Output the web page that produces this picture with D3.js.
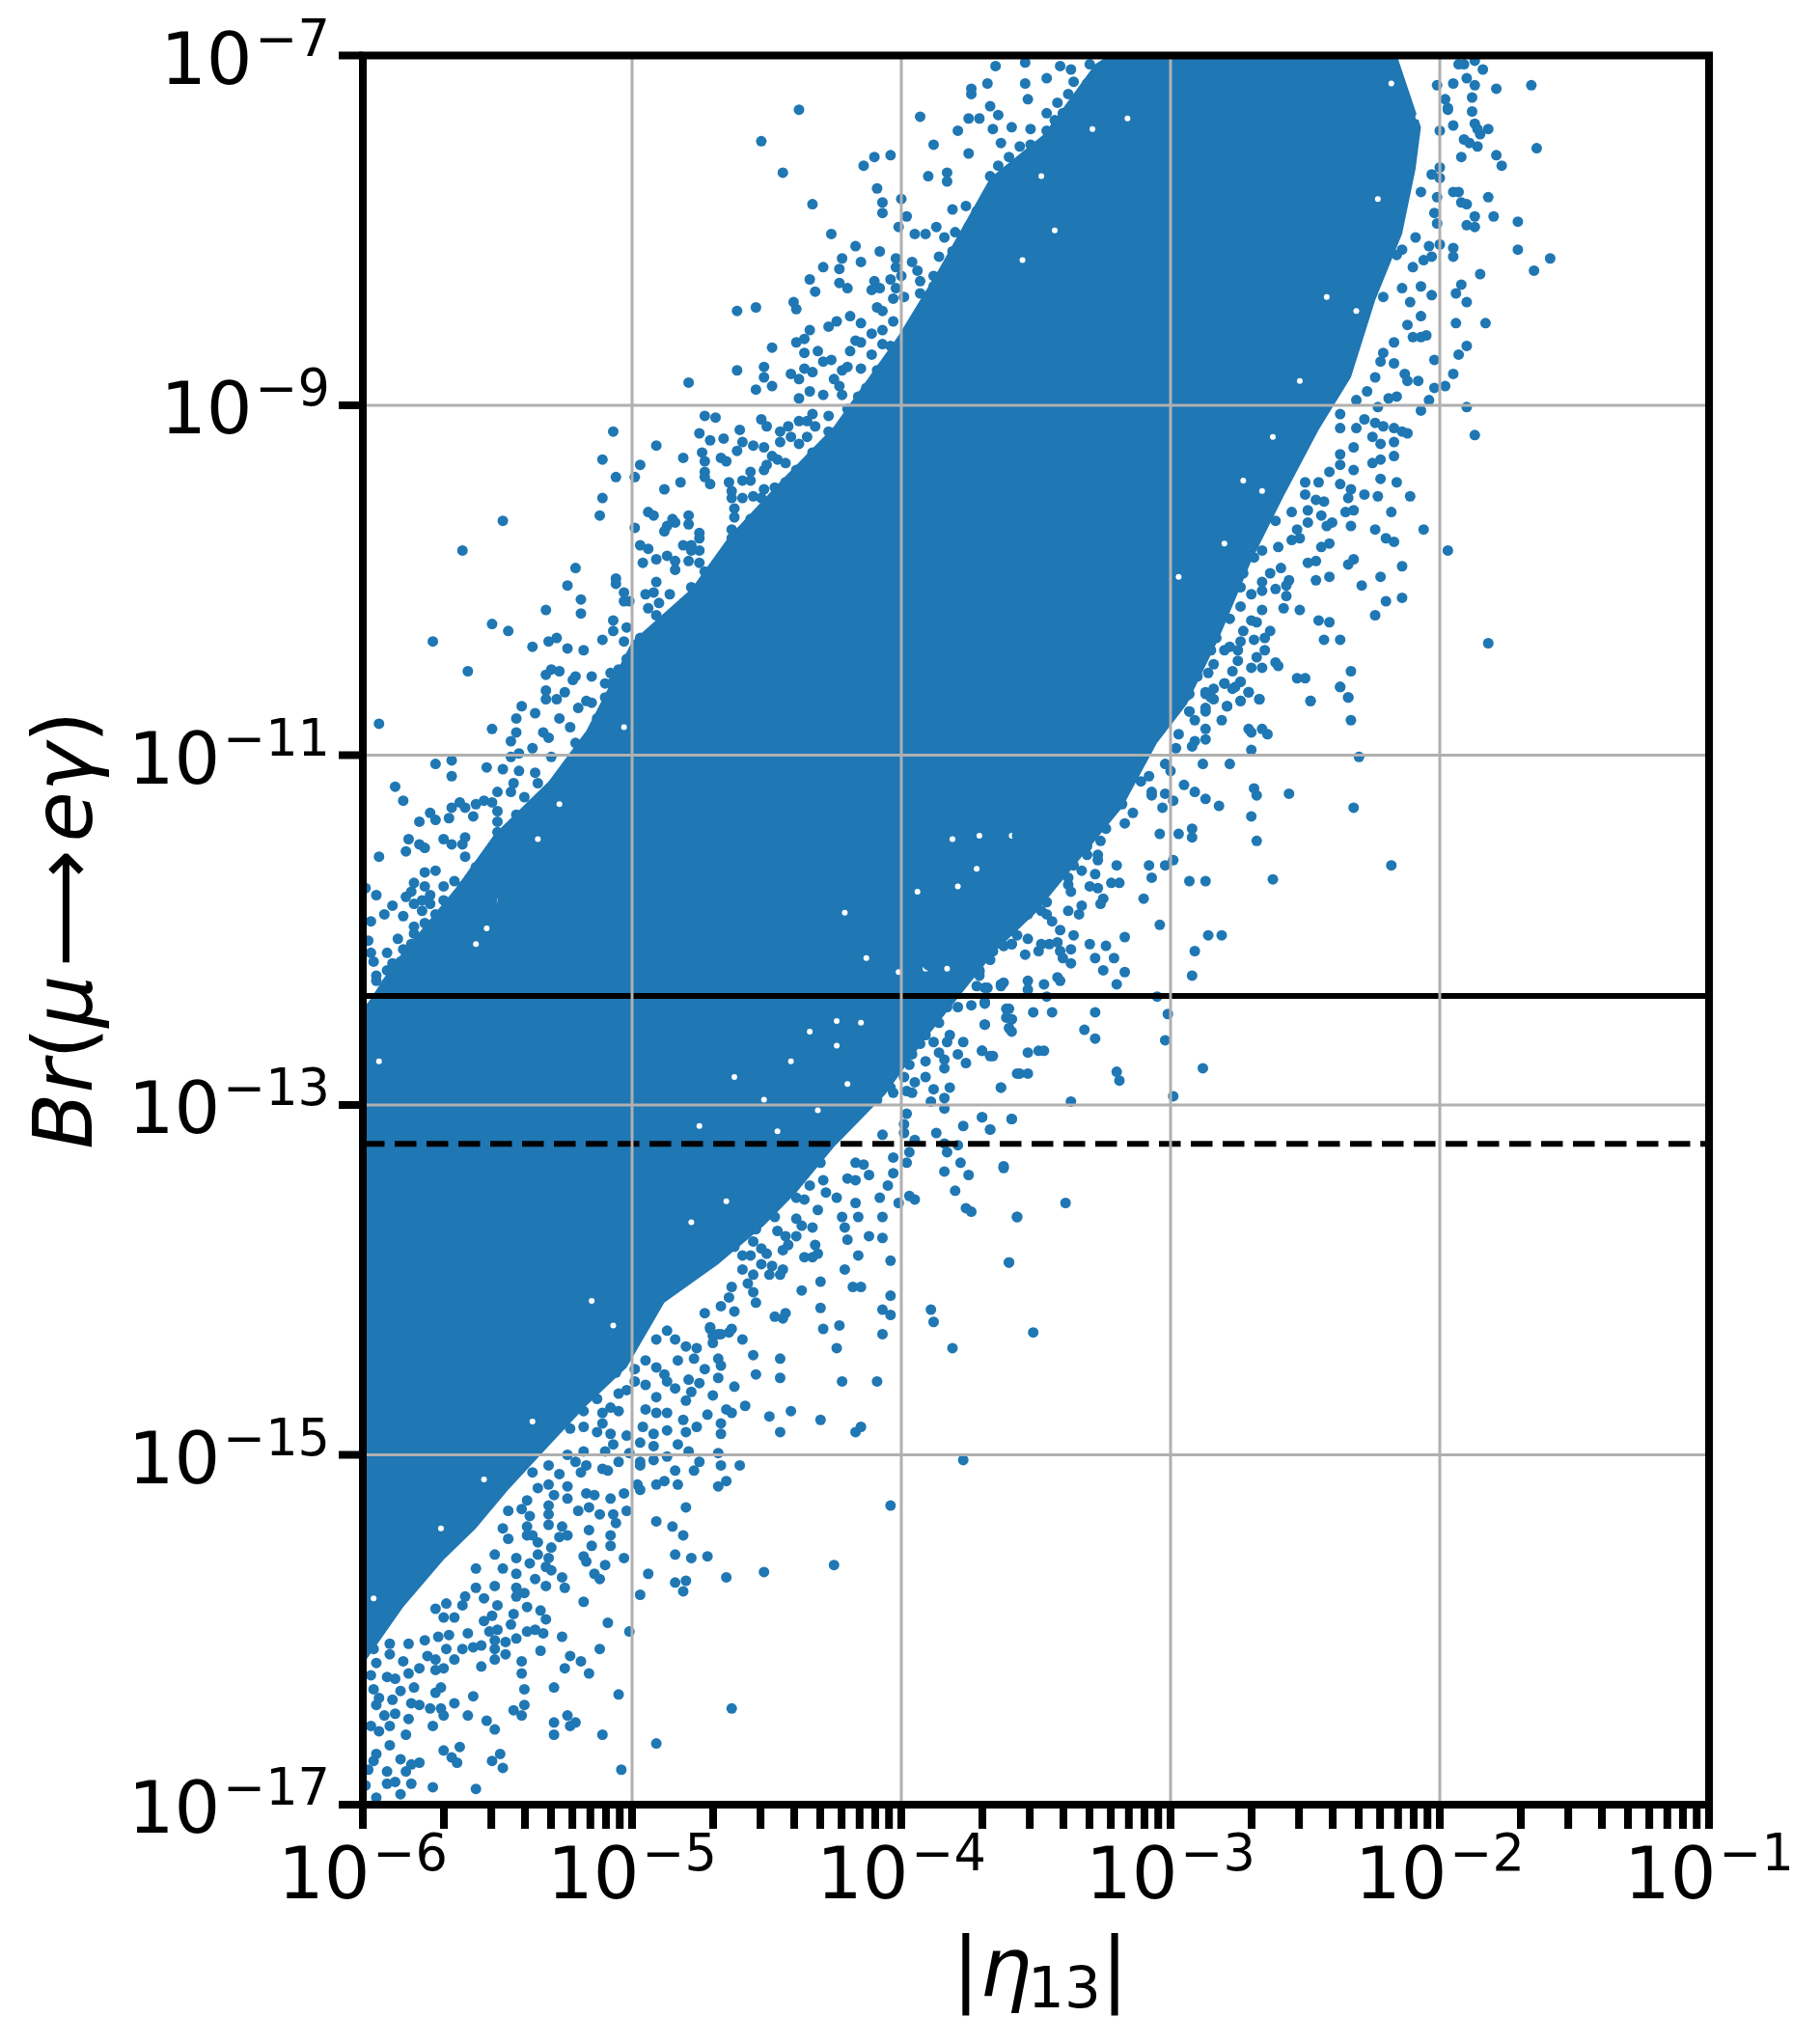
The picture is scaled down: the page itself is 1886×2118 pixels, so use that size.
<!DOCTYPE html>
<html>
<head>
<meta charset="utf-8">
<script src="https://cdn.jsdelivr.net/npm/d3@7/dist/d3.min.js"></script>
<style>
    body { margin: 0; background: #fff; }
    text { font-family: "DejaVu Sans"; fill: #000; }
</style>
</head>
<body>
<div id="graph"></div>
<script>
"use strict";

// all values are log10 of the plotted quantity
const xDecades = [-6, -5, -4, -3, -2, -1];
const yDecades = [-7, -9, -11, -13, -15, -17];
const brLimit = 4.2e-13;
const brFuture = 6e-14;

// the points are too dense to separate in the core, so it is kept as its outline
const coreOutline = [
    [-6,-16.2],[-6,-12.46],[-5.89,-12.2],[-5.65,-11.75],[-5.51,-11.45],[-5.31,-11.15],[-5.17,-10.86],
    [-5,-10.35],[-4.78,-10.05],[-4.64,-9.75],[-4.44,-9.42],[-4.25,-9.12],[-4.01,-8.6],[-3.86,-8.22],
    [-3.67,-7.7],[-3.47,-7.45],[-3.28,-7.05],[-3.18,-6.95],[-2.17,-6.95],[-2.07,-7.41],[-2.09,-7.65],
    [-2.14,-8.02],[-2.24,-8.4],[-2.33,-8.84],[-2.45,-9.14],[-2.58,-9.52],[-2.7,-9.89],[-2.82,-10.33],
    [-2.94,-10.71],[-3.05,-10.93],[-3.18,-11.3],[-3.34,-11.6],[-3.5,-11.9],[-3.65,-12.12],[-3.77,-12.35],
    [-3.92,-12.64],[-4.06,-12.94],[-4.25,-13.24],[-4.39,-13.5],[-4.51,-13.69],[-4.68,-13.91],[-4.88,-14.13],
    [-5.02,-14.5],[-5.17,-14.72],[-5.31,-14.95],[-5.46,-15.2],[-5.58,-15.42],[-5.7,-15.6],[-5.85,-15.87]
];

// small uncovered specks inside the core
const coreGaps = [
    [-3.71,-11.46],[-3.81,-11.48],[-3.59,-11.46],[-3.72,-11.65],[-3.79,-11.75],[-3.94,-11.78],[-4.21,-11.9],[-4.13,-12.16],
    [-4.01,-12.24],[-3.91,-12.22],[-3.83,-12.22],[-4.34,-12.58],[-4.24,-12.52],[-4.15,-12.53],[-4.24,-12.66],[-4.41,-12.75],
    [-4.62,-12.84],[-4.51,-12.97],[-4.2,-12.88],[-4.75,-13.12],[-5.15,-14.12],[-5.07,-14.26],[-4.78,-13.67],[-4.65,-13.55],
    [-4.46,-13.15],[-4.31,-13.03],[-5.03,-10.84],[-5.35,-11.48],[-5.27,-11.28],[-5.51,-11.83],[-5.58,-12.08],[-5.94,-12.75],
    [-5.54,-11.99],[-2.42,-8.38],[-2.31,-8.46],[-2.18,-7.16],[-2.08,-7.35],[-2.23,-7.82],[-2.52,-8.86],[-2.62,-9.18],
    [-2.73,-9.43],[-2.66,-9.49],[-2.97,-9.98],[-2.8,-9.79],[-3.16,-7.36],[-3.29,-7.42],[-3.48,-7.69],[-3.55,-8.17],
    [-3.43,-8],[-5.37,-14.81],[-5.55,-15.14],[-5.71,-15.42],[-5.63,-15.57],[-5.96,-15.82],[-5.87,-15.95]
];

const upperTop = [
    [-4.38,-7.31],[-4.52,-7.49],[-4.44,-7.67],[-4.33,-7.85],[-4.26,-8.02],[-4.14,-7.63],[-4.1,-7.58],[-4.04,-7.57],
    [-4.09,-7.76],[-4.07,-7.84],[-4.07,-7.9],[-4,-7.82],[-3.98,-7.92],[-4.01,-7.98],[-3.93,-7.35],[-3.88,-7.51],
    [-3.9,-7.69],[-3.83,-7.67],[-3.83,-7.72],[-3.75,-7.56],[-3.81,-7.88],[-3.76,-7.86],[-3.74,-7.19],[-3.74,-7.22],
    [-3.68,-7.16],[-3.65,-7.06],[-3.67,-7.29],[-3.75,-7.36],[-3.71,-7.36],[-3.79,-7.43],[-3.64,-7.34],[-3.66,-7.42],
    [-3.59,-7.41],[-3.63,-7.5],[-3.6,-7.58],[-3.64,-7.63],[-3.67,-7.69],[-3.58,-7.64],[-3.66,-7.79],[-3.64,-7.86],
    [-3.72,-7.89],[-3.69,-7.95],[-3.64,-7.96],[-3.54,-7.04],[-3.54,-7.16],[-3.53,-7.25],[-3.46,-7.13],[-3.41,-7.06],
    [-3.37,-7.08],[-3.36,-7.15],[-3.31,-7.16],[-3.29,-7.22],[-3.25,-7.08],[-3.3,-7.05],[-3.18,-7.05],[-3.13,-7.06],
    [-3.42,-7.27],[-3.46,-7.33],[-3.4,-7.33],[-3.34,-7.29],[-3.38,-7.22],[-3.52,-7.42],[-3.43,-7.37],[-3.38,-7.4],
    [-3.46,-7.43],[-3.52,-7.51],[-3.41,-7.51],[-3.56,-7.52],[-3.48,-7.59],[-3.54,-7.61],[-3.44,-7.57],[-3.51,-7.69],
    [-3.57,-7.67]
];

const upperMid = [
    [-4.17,-8.09],[-4.22,-8.16],[-4.23,-8.22],[-4.29,-8.21],[-4.15,-8.18],[-4.08,-8.12],[-4.34,-8.28],[-4.32,-8.35],
    [-4.23,-8.3],[-4.2,-8.33],[-4.1,-8.29],[-4.11,-8.34],[-4.08,-8.33],[-4.02,-8.16],[-4.02,-8.21],[-4.04,-8.28],
    [-4,-8.26],[-4.02,-8.33],[-3.96,-8.18],[-3.94,-8.23],[-3.93,-8.29],[-3.93,-8.36],[-3.95,-8.02],[-3.91,-8.02],
    [-3.87,-7.98],[-3.84,-8.04],[-3.8,-8.01],[-3.75,-7.98],[-3.74,-8.06],[-3.71,-8.11],[-3.77,-8.12],[-3.81,-8.12],
    [-3.86,-8.15],[-3.88,-8.26],[-3.8,-8.23],[-3.74,-8.23],[-3.67,-8.18],[-3.88,-8.32],[-3.81,-8.33],[-4.4,-8.41],
    [-4.39,-8.45],[-4.54,-8.44],[-4.61,-8.46],[-4.27,-8.55],[-4.24,-8.52],[-4.19,-8.49],[-4.15,-8.53],[-4.09,-8.44],
    [-4.07,-8.46],[-4.03,-8.39],[-3.99,-8.38],[-4.03,-8.52],[-4.34,-8.57],[-4.39,-8.64],[-4.36,-8.62],[-4.36,-8.7],
    [-4.48,-8.67],[-4.61,-8.8],[-4.51,-8.78],[-4.51,-8.84],[-4.48,-8.89],[-4.54,-8.91],[-4.79,-8.87],[-4.41,-8.82],
    [-4.38,-8.85],[-4.36,-8.79],[-4.33,-8.81],[-4.31,-8.69],[-4.29,-8.75],[-4.26,-8.74],[-4.25,-8.85],[-4.22,-8.8],
    [-4.23,-8.89],[-4.34,-8.92],[-4.38,-8.96],[-4.29,-8.94],[-4.22,-8.94],[-4.16,-8.95],[-4.2,-8.78],[-4.19,-8.69],
    [-4.17,-8.63],[-4.15,-8.64],[-4.11,-8.59],[-4.07,-8.57],[-4.11,-8.71],[-4.07,-8.65],[-4.04,-8.66],[-4.15,-8.79],
    [-4.09,-8.8],[-4.13,-8.9],[-4.03,-8.74],[-4.09,-8.92],[-4.04,-8.87]
];

const upperLow = [
    [-4.73,-9.06],[-4.69,-9.07],[-4.52,-9.08],[-4.5,-9.12],[-4.6,-9.14],[-4.75,-9.16],[-4.71,-9.2],[-4.66,-9.19],
    [-4.59,-9.21],[-4.61,-9.26],[-4.55,-9.23],[-4.51,-9.24],[-4.45,-9.15],[-4.42,-9.12],[-4.45,-9.21],[-4.38,-9.09],
    [-4.35,-9.09],[-4.33,-9.05],[-4.27,-9.06],[-4.41,-9.18],[-4.38,-9.22],[-4.32,-9.12],[-4.27,-9.15],[-4.35,-9.18],
    [-4.2,-9.02],[-4.13,-9.02],[-4.33,-9.27],[-5.07,-9.15],[-4.91,-9.23],[-5.11,-9.31],[-4.81,-9.3],[-4.74,-9.27],
    [-4.73,-9.32],[-4.67,-9.3],[-4.65,-9.32],[-4.97,-9.34],[-5.06,-9.41],[-4.99,-9.41],[-4.73,-9.38],[-4.73,-9.41],
    [-4.71,-9.45],[-4.82,-9.44],[-4.88,-9.48],[-4.64,-9.44],[-4.59,-9.43],[-4.56,-9.38],[-4.56,-9.43],[-4.51,-9.37],
    [-4.51,-9.48],[-4.48,-9.29],[-4.46,-9.31],[-4.43,-9.33],[-4.5,-9.34],[-4.39,-9.37],[-4.35,-9.34],[-4.43,-9.44],
    [-4.47,-9.47],[-4.63,-9.49],[-4.63,-9.53],[-4.55,-9.52],[-4.59,-9.53],[-4.52,-9.53],[-5.11,-9.53],[-5.12,-9.63],
    [-4.62,-9.59],[-4.62,-9.64],[-4.56,-9.65],[-4.53,-9.65],[-4.44,-9.58],[-4.48,-9.63],[-4.94,-9.61],[-4.92,-9.63],
    [-4.79,-9.63],[-4.79,-9.68],[-4.85,-9.65],[-4.84,-9.67],[-4.87,-9.69],[-4.88,-9.72],[-4.99,-9.7],[-5.48,-9.66],
    [-5.63,-9.83],[-4.63,-9.71],[-4.59,-9.72],[-4.55,-9.71],[-4.63,-9.76],[-4.48,-9.69],[-4.75,-9.73],[-4.75,-9.76],
    [-4.81,-9.8],[-4.78,-9.8],[-4.97,-9.8],[-4.94,-9.82],[-4.75,-9.83],[-4.78,-9.83],[-4.87,-9.86],[-4.91,-9.88],
    [-4.84,-9.89],[-4.79,-9.89],[-4.75,-9.9],[-4.96,-9.9],[-4.84,-9.94],[-4.64,-9.86],[-4.66,-9.9],[-4.69,-9.93],
    [-4.73,-9.95],[-4.59,-9.81],[-4.55,-9.77],[-5.21,-9.93],[-5.06,-9.99],[-5.06,-10.02],[-4.91,-10.01],[-5.24,-10.03],
    [-4.78,-10.04],[-5.03,-10.07],[-5.19,-10.11],[-4.95,-10.08],[-4.92,-10.07],[-4.86,-10.08],[-5.03,-10.12],[-5.01,-10.12],
    [-5.32,-10.17],[-5.19,-10.19],[-4.9,-10.13],[-4.94,-10.16],[-4.91,-10.2],[-4.87,-10.22],[-4.81,-10.13],[-5.07,-10.23],
    [-5.52,-10.25],[-5.46,-10.29],[-5.02,-10.27],[-5.07,-10.29],[-4.91,-10.27],[-5.74,-10.35],[-5.28,-10.33],[-5.31,-10.35],
    [-5.37,-10.38],[-5.24,-10.39],[-5.18,-10.4],[-5.11,-10.34],[-5.03,-10.35],[-4.97,-10.33],[-5.02,-10.45],[-4.94,-10.39],
    [-5.61,-10.52],[-5.3,-10.51],[-5.32,-10.54],[-5.27,-10.52],[-5.21,-10.55],[-5.22,-10.57],[-5.15,-10.55],[-5.1,-10.59],
    [-5.08,-10.53],[-5.05,-10.51],[-5.01,-10.55],[-5.07,-10.58],[-5.32,-10.63],[-5.25,-10.64],[-5.32,-10.68],[-5.28,-10.68],
    [-5.1,-10.67],[-5.07,-10.62],[-5.03,-10.66],[-5.41,-10.72],[-5.17,-10.69],[-5.15,-10.7],[-5.2,-10.73]
];

const upperLeft = [
    [-5.94,-10.82],[-5.52,-10.85],[-5.43,-10.79],[-5.36,-10.76],[-5.43,-10.87],[-5.33,-10.87],[-5.31,-10.9],[-5.45,-10.92],
    [-5.37,-10.96],[-5.42,-10.99],[-5.27,-10.79],[-5.23,-10.84],[-5.21,-10.93],[-5.13,-10.79],[-5.1,-10.87],[-5.73,-11.05],
    [-5.67,-11.03],[-5.67,-11.12],[-5.54,-11.07],[-5.48,-11.08],[-5.42,-11.09],[-5.45,-11.01],[-5.36,-11.1],[-5.3,-11.01],
    [-5.88,-11.18],[-5.85,-11.26],[-5.44,-11.16],[-5.35,-11.16],[-5.5,-11.21],[-5.45,-11.21],[-5.64,-11.27],[-5.67,-11.3],
    [-5.62,-11.3],[-5.58,-11.28],[-5.55,-11.26],[-5.52,-11.27],[-5.4,-11.24],[-5.75,-11.33],[-5.79,-11.38],[-5.73,-11.37],
    [-5.68,-11.36],[-5.59,-11.35],[-5.5,-11.32],[-5.43,-11.34],[-5.39,-11.35],[-5.37,-11.28],[-5.5,-11.38],[-5.42,-11.41],
    [-5.5,-11.44],[-5.83,-11.48],[-5.7,-11.48],[-5.62,-11.47],[-5.79,-11.51],[-5.67,-11.51],[-5.63,-11.51],[-5.77,-11.53],
    [-5.84,-11.55],[-5.94,-11.58],[-5.52,-11.54],[-5.62,-11.58],[-5.45,-11.48],[-5.73,-11.66],[-5.77,-11.67],[-5.58,-11.64],
    [-5.55,-11.61],[-5.81,-11.73],[-5.66,-11.72],[-5.7,-11.75],[-5.63,-11.75],[-5.59,-11.73],[-5.77,-11.75],[-5.55,-11.75],
    [-5.99,-11.76],[-5.95,-11.8],[-5.82,-11.78],[-5.84,-11.81],[-5.75,-11.8],[-5.7,-11.83],[-5.52,-11.83],[-5.89,-11.86],
    [-5.81,-11.85],[-5.78,-11.83],[-5.75,-11.85],[-5.66,-11.89],[-5.92,-11.91],[-5.85,-11.92],[-5.78,-11.89],[-5.73,-11.91],
    [-5.97,-11.95],[-5.81,-11.98],[-5.77,-11.96],[-5.69,-11.97],[-5.72,-11.99],[-5.81,-12.02],[-5.87,-12.05],[-5.98,-12.06],
    [-5.82,-12.08],[-5.85,-12.11],[-5.78,-12.08],[-5.73,-12.12],[-5.97,-12.13],[-5.91,-12.13],[-5.82,-12.13],[-5.96,-12.18],
    [-5.89,-12.19],[-5.86,-12.18],[-5.91,-12.23],[-5.95,-12.26],[-5.85,-12.26],[-5.8,-12.23],[-5.95,-12.29],[-5.91,-12.3],
    [-5.88,-12.34],[-5.85,-12.32],[-5.92,-12.37],[-5.9,-12.42],[-5.97,-12.44],[-5.86,-12.47]
];

const lowerCentre = [
    [-3.63,-12.31],[-3.69,-12.33],[-3.72,-12.32],[-3.82,-12.31],[-3.87,-12.33],[-3.91,-12.32],[-3.79,-12.28],[-3.71,-12.24],
    [-3.94,-12.24],[-3.9,-12.2],[-3.84,-12.12],[-3.79,-12.17],[-3.75,-12.16],[-3.66,-12.12],[-3.62,-12.09],[-3.59,-12.08],
    [-3.66,-12.03],[-3.69,-11.97],[-3.66,-11.96],[-3.59,-11.97],[-3.72,-11.86],[-3.59,-11.87],[-3.69,-11.83],[-3.64,-11.73],
    [-3.58,-11.73],[-3.74,-12.43],[-3.69,-12.42],[-3.61,-12.45],[-3.59,-12.51],[-3.6,-12.56],[-3.69,-12.54],[-3.83,-12.44],
    [-3.89,-12.45],[-3.79,-12.44],[-3.93,-12.51],[-3.86,-12.53],[-3.91,-12.6],[-3.82,-12.6],[-3.83,-12.64],[-3.77,-12.64],
    [-3.88,-12.64],[-3.93,-12.65],[-3.86,-12.7],[-3.79,-12.71],[-3.7,-12.69],[-3.67,-12.72],[-3.76,-12.76],[-3.84,-12.74],
    [-3.91,-12.75],[-3.96,-12.71],[-4.01,-12.74],[-3.84,-12.79],[-3.57,-12.82],[-3.97,-12.77],[-3.99,-12.84],[-3.91,-12.84],
    [-3.95,-12.87],[-3.63,-12.9],[-3.82,-12.9],[-3.88,-12.91],[-3.98,-12.92],[-4.03,-12.93],[-4.07,-12.88],[-4.04,-12.9],
    [-3.96,-12.93],[-3.84,-12.96],[-3.89,-12.98],[-4.09,-12.97],[-3.84,-13.02],[-3.98,-13.05],[-3.7,-13.07],[-3.59,-13.08],
    [-3.77,-13.12],[-3.67,-13.14],[-3.99,-13.11],[-3.87,-13.16],[-3.99,-13.16],[-3.95,-13.2],[-3.84,-13.22],[-4.07,-13.17],
    [-3.79,-13.23],[-3.83,-13.27],[-3.97,-13.27],[-4.03,-13.3],[-3.98,-13.33],[-3.78,-13.33],[-3.62,-13.35],[-3.84,-13.38],
    [-3.75,-13.4],[-4.03,-13.39],[-4.17,-13.33],[-4.14,-13.34],[-4.12,-13.4],[-4.2,-13.42],[-4.17,-13.43],[-4.05,-13.46],
    [-3.8,-13.49],[-4.24,-13.53],[-4.08,-13.53],[-3.97,-13.52],[-3.95,-13.54],[-4.01,-13.56],[-4.17,-13.56],[-3.76,-13.59],
    [-3.74,-13.61],[-3.57,-13.64],[-4.31,-13.6],[-4.22,-13.64],[-4.16,-13.64],[-4.07,-13.64],[-4.21,-13.7],[-4.12,-13.75],
    [-4.07,-13.76],[-4.2,-13.77],[-4.32,-13.8],[-4.16,-13.86],[-4.36,-13.87],[-4.33,-13.87],[-4.31,-13.85],[-4.04,-13.89],
    [-3.6,-13.9],[-4.21,-13.94],[-4.3,-14.01],[-4.18,-14.04],[-4.15,-14.04],[-4.37,-14.06],[-4.04,-14.09],[-4.3,-14.16],
    [-4.07,-14.17],[-4.04,-14.2],[-3.89,-14.17],[-3.88,-14.24],[-4.47,-14.21],[-4.43,-14.19],[-4.44,-14.22],[-4.29,-14.28],
    [-4.23,-14.26],[-4.07,-14.31],[-4.24,-14.39],[-3.81,-14.39]
];

const lowerDiagonal = [
    [-4.3,-13.33],[-4.29,-13.43],[-4.39,-13.38],[-4.46,-13.43],[-4.39,-13.53],[-4.34,-13.46],[-4.28,-13.5],[-4.36,-13.54],
    [-4.5,-13.49],[-4.58,-13.54],[-4.54,-13.6],[-4.58,-13.64],[-4.47,-13.64],[-4.39,-13.65],[-4.37,-13.69],[-4.33,-13.7],
    [-4.46,-13.72],[-4.54,-13.71],[-4.62,-13.69],[-4.43,-13.75],[-4.39,-13.75],[-4.42,-13.8],[-4.55,-13.78],[-4.52,-13.82],
    [-4.5,-13.85],[-4.62,-13.81],[-4.44,-13.83],[-4.59,-13.86],[-4.56,-13.86],[-4.48,-13.92],[-4.52,-13.91],[-4.44,-13.94],
    [-4.45,-13.97],[-4.49,-13.97],[-4.59,-13.94],[-4.55,-13.97],[-4.63,-14.04],[-4.57,-14.02],[-4.55,-14.07],[-4.54,-14.13],
    [-4.64,-14.1],[-4.67,-14.15],[-4.62,-14.18],[-4.73,-14.19],[-4.71,-14.28],[-4.68,-14.31],[-4.64,-14.3],[-4.59,-14.34],
    [-4.7,-14.36],[-4.55,-14.43],[-4.45,-14.45],[-4.54,-14.54],[-4.45,-14.56],[-4.22,-14.58],[-4.09,-14.58],[-4.62,-14.61],
    [-4.58,-14.72],[-4.49,-14.78],[-4.41,-14.75],[-4.3,-14.8],[-4.45,-14.87],[-4.17,-14.87],[-4.15,-14.84],[-4.72,-14.77],
    [-4.65,-14.74],[-4.63,-14.76],[-4.67,-14.82],[-4.67,-14.88],[-4.76,-14.84],[-3.77,-15.03],[-4.68,-14.99],[-4.67,-15.06],
    [-4.6,-15.06],[-4.65,-15.15],[-4.68,-15.18],[-4.75,-15.04],[-4.77,-15.09],[-4.84,-15.09],[-4.83,-15.17],[-4.88,-15.15],
    [-4.91,-15.17],[-4.87,-15.01],[-4.79,-14.98],[-4.92,-15.03],[-4.83,-14.94],[-4.92,-14.95],[-4.97,-14.93],[-4.92,-14.88],
    [-4.87,-14.86],[-4.8,-14.87],[-4.81,-14.8],[-4.87,-14.76],[-4.91,-14.76],[-4.96,-14.84],[-4.95,-14.74],[-4.91,-14.67],
    [-4.8,-14.69],[-4.78,-14.64],[-4.7,-14.66],[-4.97,-15.06],[-4.98,-15.17],[-4.97,-15.2],[-5.03,-15.22],[-4.8,-15.3],
    [-4.04,-15.29],[-5.02,-15.32],[-5.08,-15.25],[-5.07,-15.34],[-5.06,-15.39],[-5.12,-15.34],[-5.17,-15.22],[-5.14,-15.23],
    [-5.24,-15.18],[-5.24,-15.25],[-5.2,-15.32],[-5.16,-15.3],[-5.16,-15.43],[-5.08,-15.46],[-5.08,-15.52],[-5.15,-15.52],
    [-4.91,-15.38],[-4.85,-15.41],[-4.81,-15.46],[-4.84,-15.57],[-4.78,-15.59],[-4.72,-15.58],[-5.03,-15.59],[-5.18,-15.58],
    [-5.17,-15.61],[-5.1,-15.63],[-4.94,-15.68],[-4.65,-15.7],[-4.51,-15.67],[-4.25,-15.63],[-4.84,-15.73],[-4.8,-15.72],
    [-4.81,-15.78],[-5.14,-15.68],[-5.12,-15.71],[-4.97,-15.8],[-5.18,-15.84],[-5.25,-15.76],[-5.26,-15.7],[-5.32,-15.75],
    [-5.36,-15.71]
];

const lowerTail = [
    [-5.09,-15.96],[-5.01,-16.01],[-5.26,-16.04],[-5.32,-15.94],[-5.34,-15.89],[-5.39,-15.87],[-5.12,-16.11],[-5.23,-16.15],
    [-5.19,-16.18],[-5.25,-16.22],[-5.16,-16.25],[-5.34,-16.12],[-5.33,-16.02],[-5.36,-16],[-5.39,-16.01],[-5.43,-16.05],
    [-5.41,-16.18],[-5.41,-16.25],[-5.29,-16.33],[-5.4,-16.34],[-5.05,-16.37],[-4.63,-16.45],[-5.4,-16.43],[-5.44,-16.46],
    [-5.41,-16.49],[-5.29,-16.53],[-5.24,-16.49],[-5.21,-16.53],[-5.23,-16.55],[-5.29,-16.6],[-5.11,-16.6],[-4.91,-16.65],
    [-5.04,-16.8],[-5.48,-16.79],[-5.51,-16.57],[-5.54,-16.52],[-5.61,-16.49],[-5.66,-16.42],[-5.59,-16.38],[-5.64,-16.67],
    [-5.7,-16.69],[-5.67,-16.73],[-5.65,-16.76],[-5.52,-16.75],[-5.49,-16.71],[-5.74,-16.9],[-5.58,-16.91],[-5.79,-16.76],
    [-5.82,-16.77],[-5.84,-16.81],[-5.91,-16.81],[-5.82,-16.88],[-5.88,-16.87],[-5.91,-16.88],[-5.86,-16.94],[-5.95,-16.96],
    [-5.99,-16.89],[-5.98,-16.8],[-5.86,-16.74],[-5.95,-16.71],[-5.96,-16.75],[-5.9,-16.66],[-5.84,-16.6],[-5.94,-16.58],
    [-5.97,-16.55],[-5.9,-16.55],[-5.83,-16.51],[-5.92,-16.49],[-5.88,-16.48],[-5.74,-16.55],[-5.7,-16.49],[-5.75,-16.45],
    [-5.71,-16.45],[-5.79,-16.43],[-5.82,-16.42],[-5.89,-16.4],[-5.95,-16.43],[-5.94,-16.39],[-5.96,-16.34],[-5.86,-16.35],
    [-5.81,-16.33],[-5.73,-16.36],[-5.71,-16.33],[-5.88,-16.28],[-5.91,-16.27],[-5.7,-16.22],[-5.73,-16.23],[-5.56,-16.21],
    [-5.51,-16.17],[-5.47,-16.14],[-5.79,-16.22],[-5.83,-16.25],[-5.97,-16.26],[-5.66,-16.17],[-5.95,-16.19],[-5.85,-16.18],
    [-5.76,-16.15],[-5.73,-16.17],[-5.9,-16.14],[-5.96,-16.11],[-5.69,-16.11],[-5.63,-16.11],[-5.59,-16.1],[-5.56,-16.09],
    [-5.51,-16.11],[-5.47,-16.07],[-5.77,-16.06],[-5.83,-16.08],[-5.9,-16.08],[-5.97,-16.04],[-5.72,-16.04],[-5.68,-16.03],
    [-5.61,-16.02],[-5.53,-16.01],[-5.5,-16],[-5.45,-15.97],[-5.51,-16.06],[-5.55,-15.95],[-5.52,-15.92],[-5.66,-15.93],
    [-5.7,-15.93],[-5.73,-15.88],[-5.44,-15.91],[-5.63,-15.86],[-5.5,-15.86],[-5.55,-15.82],[-5.51,-15.75],[-5.43,-15.81],
    [-5.43,-15.76],[-5.4,-15.79],[-5.69,-15.85],[-5.62,-15.81],[-5.58,-15.76],[-5.43,-15.68],[-5.48,-15.65],[-5.58,-15.65],
    [-5.38,-15.62],[-5.32,-15.64],[-5.3,-15.66],[-5.35,-15.57],[-5.31,-15.59],[-5.3,-15.53],[-5.43,-15.59],[-5.51,-15.57],
    [-5.35,-15.5],[-5.46,-15.48],[-5.37,-15.46],[-5.39,-15.46],[-5.24,-15.46],[-5.27,-15.47],[-5.31,-15.4],[-5.26,-15.41],
    [-5.39,-15.41],[-5.48,-15.42],[-5.38,-15.35],[-5.31,-15.34],[-5.41,-15.31],[-5.31,-15.29],[-5.46,-15.32],[-5.29,-15.23],
    [-5.31,-15.17],[-5.39,-15.26],[-5.35,-15.19],[-5.37,-15.1],[-5.31,-15.06],[-5.27,-15.11],[-5.21,-15.04],[-5.17,-15.06],
    [-5.11,-15.08],[-5.09,-15.09],[-5.05,-15.04],[-5.19,-15.1],[-5.24,-15],[-5.18,-14.98],[-5.1,-14.98],[-5.07,-14.94],
    [-5.02,-14.89],[-4.97,-15.04],[-5.01,-14.99],[-5.08,-14.88],[-5.13,-14.87],[-5.18,-14.84],[-5.23,-14.85],[-5.11,-14.82],
    [-5.11,-14.76],[-5.05,-14.75],[-5.18,-14.75],[-5.08,-14.73],[-5.13,-14.68],[-5.2,-14.7],[-5.19,-14.64],[-5.05,-14.65],
    [-5.02,-14.63],[-5.14,-14.61],[-5.12,-14.52],[-5.06,-14.53],[-5.08,-14.46],[-5.03,-14.46],[-5.08,-14.37],[-5.02,-14.35],
    [-4.97,-14.27],[-4.99,-14.51],[-4.95,-14.6],[-4.99,-14.58],[-4.95,-14.46],[-4.91,-14.5],[-4.88,-14.54],[-4.87,-14.58],
    [-4.84,-14.62],[-4.91,-14.34],[-4.87,-14.29],[-4.84,-14.34],[-4.8,-14.38],[-4.76,-14.39],[-4.83,-14.46],[-4.77,-14.45],
    [-4.73,-14.51],[-4.68,-14.56],[-4.68,-14.45],[-4.67,-14.49],[-4.79,-14.57],[-4.75,-14.59],[-4.7,-14.32],[-4.67,-14.31],
    [-4.63,-14.28],[-4.71,-14.27]
];

const rightLow = [
    [-2.18,-11.63],[-2.32,-11.3],[-2.3,-11.01],[-2.33,-10.8],[-2.34,-10.67],[-2.37,-10.61],[-2.48,-10.69],[-2.56,-11.22],
    [-2.62,-11.71],[-2.68,-11.49],[-2.7,-11.35],[-2.69,-11.19],[-2.68,-11.23],[-2.7,-10.97],[-2.64,-10.88],[-2.66,-10.85],
    [-2.71,-10.85],[-2.7,-10.87],[-2.67,-10.68],[-2.74,-10.69],[-2.71,-10.64],[-2.74,-10.58],[-2.76,-10.61],[-2.8,-10.59],
    [-2.78,-11.05],[-2.82,-11.29],[-2.87,-11.25],[-2.91,-11.21],[-2.95,-11.17],[-2.88,-11.05],[-2.81,-10.8],[-2.87,-10.85],
    [-2.87,-10.91],[-2.91,-10.8],[-2.93,-10.75],[-2.87,-10.75],[-2.79,-10.72],[-2.84,-10.68],[-2.87,-10.64],[-2.94,-10.66],
    [-2.97,-10.88],[-2.91,-10.92],[-2.92,-10.95],[-2.98,-10.96],[-2.92,-11.42],[-2.92,-11.47],[-2.97,-11.45],[-3.04,-11.45],
    [-2.99,-11.26],[-3.03,-11.3],[-3.02,-11.22],[-3.07,-11.23],[-3,-11.09],[-3.02,-11.05],[-2.99,-11.6],[-3.02,-11.63],
    [-3.08,-11.63],[-3.07,-11.7],[-2.93,-11.72],[-2.87,-11.72],[-3.1,-11.82],[-3.04,-11.97],[-2.86,-12.03],[-2.81,-12.03],
    [-2.91,-12.12],[-2.92,-12.26],[-3.17,-12.04],[-3.24,-12.09],[-3.3,-12.08],[-3.21,-12.16],[-3.28,-12.16],[-3.17,-12.24],
    [-3.25,-12.23],[-3.2,-12.31],[-3.2,-11.63],[-3.22,-11.73],[-3.19,-11.73],[-3.27,-11.76],[-3.3,-11.75],[-3.28,-11.68],
    [-3.25,-11.82],[-3.26,-11.85],[-3.33,-11.86],[-3.34,-11.91],[-3.38,-11.89],[-3.36,-12.03],[-3.37,-12.11],[-3.37,-12.19],
    [-3.41,-12.12],[-3.4,-12.16],[-3.42,-12.07],[-3.45,-12.08],[-3.49,-12.12],[-3.48,-12.08],[-3.54,-12.14],[-3.59,-12.08],
    [-3.53,-12.05],[-3.57,-12.03],[-3.62,-12.09],[-3.41,-12],[-3.44,-11.95],[-3.42,-12.27],[-3.41,-12.29],[-3.47,-12.31],
    [-3.53,-12.29],[-3.53,-12.34],[-3.62,-12.3],[-3.63,-12.32],[-3.68,-12.33],[-3.71,-12.26],[-3.71,-12.23],[-3.66,-12.12],
    [-3.67,-12.17],[-3.59,-11.95],[-3.61,-12],[-3.66,-11.96],[-3.69,-11.97],[-3.64,-12.03],[-3.53,-11.91],[-3.48,-11.89],
    [-3.46,-11.91],[-3.46,-11.84],[-3.52,-11.84],[-3.47,-11.75],[-3.51,-11.75],[-3.58,-11.75],[-3.62,-11.84],[-3.58,-11.87],
    [-3.38,-11.74],[-3.37,-11.78],[-3.38,-11.7],[-3.33,-11.66],[-3.36,-11.63],[-3.27,-11.6],[-3.27,-11.57],[-3.31,-11.52],
    [-3.31,-11.57],[-3.35,-11.52],[-3.4,-11.58],[-3.43,-11.53],[-3.42,-11.62],[-3.45,-11.6],[-3.5,-11.58],[-3.5,-11.5],
    [-3.33,-11.46],[-3.29,-11.4],[-3.26,-11.49],[-3.24,-11.42],[-3.17,-11.39],[-3.14,-11.33],[-3.22,-11.31],[-3.18,-11.28],
    [-3.21,-11.24],[-3.26,-11.29],[-3.38,-11.39],[-3.41,-11.43],[-3.46,-11.44],[-3.34,-11.33],[-3.37,-11.28],[-3.42,-11.3],
    [-3.46,-11.33],[-3.36,-11.23],[-3.31,-11.21],[-3.25,-11.17],[-3.49,-11.39],[-3.54,-11.42],[-3.57,-11.46],[-3.11,-11.15],
    [-3.08,-11.12],[-3.12,-11.05],[-3.21,-11.09],[-3.15,-11.04],[-3.07,-11.21]
];

const belowLimit = [
    [-3.05,-12.38],[-3.01,-12.48],[-3.02,-12.63],[-3.28,-12.47],[-3.32,-12.57],[-3.28,-12.62],[-3.44,-12.47],[-3.51,-12.47],
    [-3.46,-12.38],[-3.6,-12.45],[-3.61,-12.5],[-3.59,-12.51],[-3.59,-12.58],[-3.69,-12.54],[-3.69,-12.41],[-3.7,-12.69],
    [-3.66,-12.72],[-3.53,-12.7],[-3.49,-12.69],[-3.47,-12.69],[-3.56,-12.82],[-3.53,-12.82],[-3.2,-12.81],[-3.19,-12.86],
    [-2.88,-12.79],[-2.99,-12.95],[-3.63,-12.9],[-3.37,-12.98],[-3.7,-13.07],[-3.59,-13.08],[-3.67,-13.14],[-3.62,-13.36],
    [-3.39,-13.56],[-3.57,-13.64],[-3.6,-13.9],[-3.51,-14.3]
];

const rightTop = [
    [-1.66,-7.17],[-1.64,-7.53],[-1.79,-7.19],[-1.84,-7.08],[-1.79,-7.57],[-1.77,-7.63],[-1.82,-7.81],[-1.8,-7.92],
    [-1.71,-7.95],[-1.71,-8.11],[-1.59,-8.16],[-1.65,-8.23],[-1.85,-8.25],[-1.82,-7.42],[-1.86,-7.52],[-1.89,-7.5],
    [-1.91,-7.48],[-1.85,-7.45],[-1.87,-7.39],[-1.86,-7.42],[-1.88,-7.32],[-1.88,-7.24],[-1.87,-7.17],[-1.9,-7.13],
    [-1.95,-7.16],[-1.97,-7.3],[-1.95,-7.4],[-1.92,-7.58],[-1.95,-7.78],[-1.93,-7.78],[-1.92,-7.84],[-1.9,-7.85],
    [-1.87,-7.92],[-1.9,-7.97],[-1.87,-7.98],[-1.95,-8.1],[-1.95,-8.15],[-2,-8.08],[-2.04,-8.09],[-2.06,-8.17],
    [-2.03,-8.15],[-1.92,-8.31],[-1.94,-8.36],[-1.9,-8.41],[-1.94,-8.53],[-1.83,-8.53],[-1.9,-8.66],[-1.93,-8.71],
    [-2.02,-8.74],[-1.95,-8.82],[-1.98,-8.89],[-2.02,-8.9],[-2.04,-8.97],[-1.9,-9.01],[-1.87,-9.17],[-2.07,-9.03],
    [-2.01,-7.17],[-1.98,-7.25],[-1.97,-7.31],[-2,-7.43],[-2,-7.64],[-2,-7.7],[-2.03,-7.68],[-2.01,-7.81],
    [-2.07,-7.78],[-2.02,-7.9],[-2.01,-7.96],[-2.09,-8.04],[-2.14,-8.11],[-2.16,-8.14],[-2.1,-8.21],[-2.14,-8.33],
    [-2.07,-8.32],[-2.21,-8.38],[-1.93,-7.05],[-1.87,-7.03],[-1.91,-7.05]
];

const rightMid = [
    [-1.97,-9.83],[-1.82,-10.36],[-2.06,-9.71],[-2.11,-9.52],[-2.16,-9.44],[-2.18,-9.61],[-2.14,-9.92],[-2.14,-10.1],
    [-2.2,-10.12],[-2.22,-9.98],[-2.24,-10.2],[-2.17,-9.78],[-2.2,-9.76],[-2.24,-9.71],[-2.22,-9.42],[-2.17,-9.29],
    [-2.22,-9.31],[-2.25,-9.33],[-2.28,-9.51],[-2.23,-9.52],[-2.32,-9.37],[-2.33,-9.48],[-2.34,-9.53],[-2.32,-9.6],
    [-2.35,-9.61],[-2.33,-9.69],[-2.4,-9.67],[-2.42,-9.69],[-2.41,-9.79],[-2.44,-9.81],[-2.32,-9.88],[-2.34,-9.91],
    [-2.46,-9.89],[-2.49,-9.9],[-2.41,-9.98],[-2.46,-10],[-2.29,-10.03],[-2.59,-9.93],[-2.63,-9.96],[-2.56,-10],
    [-2.57,-10.03],[-2.61,-10.05],[-2.57,-10.09],[-2.66,-10.01],[-2.66,-10.06],[-2.58,-10.16],[-2.52,-10.17],[-2.66,-10.17],
    [-2.45,-10.23],[-2.41,-10.24],[-2.43,-10.34],[-2.37,-10.34],[-2.63,-10.29],[-2.65,-10.33],[-2.69,-10.34],[-2.68,-10.24],
    [-2.7,-10.23],[-2.74,-10.15],[-2.7,-10.08],[-2.65,-10.4],[-2.68,-10.44],[-2.61,-10.47],[-2.6,-10.49],[-2.66,-10.5],
    [-2.7,-10.5],[-2.75,-10.46],[-2.77,-10.52],[-2.83,-10.33],[-2.8,-10.4],[-2.78,-10.38],[-2.75,-10.4],[-2.33,-10.52],
    [-2.53,-10.56],[-2.5,-10.56],[-2.37,-10.61],[-2.34,-10.67],[-2.48,-10.69],[-2.67,-10.68],[-2.71,-10.64],[-2.74,-10.58],
    [-2.77,-10.62],[-2.8,-10.59],[-2.84,-10.62],[-2.79,-10.72],[-2.74,-10.69],[-2.87,-10.65],[-2.85,-10.67],[-2.86,-10.53],
    [-2.84,-10.48],[-2.85,-10.4],[-2.85,-10.24],[-2.93,-10.75],[-2.87,-10.73],[-2.93,-10.65],[-2.98,-10.66],[-2.74,-10.35],
    [-2.89,-10.35],[-2.95,-10.45],[-2.9,-10.46],[-2.93,-10.55],[-2.9,-10.55],[-2.03,-8.37],[-2.11,-8.41],[-2.07,-8.49],
    [-2.12,-8.54],[-2.05,-8.6],[-2.07,-8.61],[-2.1,-8.61],[-2.17,-8.64],[-2.21,-8.7],[-2.22,-8.75],[-2.17,-8.76],
    [-2.13,-8.82],[-2.08,-8.86],[-2.12,-8.86],[-2.24,-8.84],[-2.27,-8.92],[-2.16,-8.95],[-2.19,-8.96],[-2.31,-8.97],
    [-2.23,-9.01],[-2.37,-9.05],[-2.28,-9.08],[-2.24,-9.1],[-2.21,-9.12],[-2.17,-9.13],[-2.12,-9.16],[-2.14,-9.15],
    [-2.22,-9.22],[-2.17,-9.21],[-2.25,-9.18],[-2.31,-9.13],[-2.37,-9.13],[-2.32,-9.24],[-2.37,-9.28],[-2.41,-9.38],
    [-2.37,-9.34],[-2.37,-9.45],[-2.45,-9.44],[-2.5,-9.44],[-2.5,-9.51],[-2.43,-9.55],[-2.46,-9.54],[-2.44,-9.63],
    [-2.49,-9.6],[-2.49,-9.67],[-2.52,-9.76],[-2.55,-9.77],[-2.6,-9.81],[-2.66,-9.83],[-2.53,-9.71],[-2.61,-9.66],
    [-2.65,-9.58],[-2.55,-9.61],[-2.69,-9.87],[-2.74,-9.85],[-2.73,-9.96],[-2.74,-10.04],[-2.79,-10.08],[-2.78,-10.22],
    [-2.73,-10.29]
];

(function() {
    const svgSize = { width: 1886, height: 2118 };
    const plot = { left: 376, right: 1771, top: 57.5, bottom: 1870 };
    const blue = "#1f77b4";
    const grey = "#b0b0b0";

    const x = d3.scaleLog().domain([1e-6, 1e-1]).range([plot.left, plot.right]);
    const y = d3.scaleLog().domain([1e-17, 1e-7]).range([plot.bottom, plot.top]);
    const px = (d) => x(Math.pow(10, d[0]));
    const py = (d) => y(Math.pow(10, d[1]));

    const svg = d3.select("#graph").append("svg")
        .attr("width", svgSize.width)
        .attr("height", svgSize.height)
        .style("display", "block");

    svg.append("clipPath").attr("id", "plot-clip").append("rect")
        .attr("x", plot.left).attr("y", plot.top)
        .attr("width", plot.right - plot.left).attr("height", plot.bottom - plot.top);

    const marks = svg.append("g").attr("clip-path", "url(#plot-clip)");

    marks.append("path")
        .attr("d", d3.line().x(px).y(py)(coreOutline) + "Z")
        .attr("fill", blue);

    marks.selectAll("circle.gap")
        .data(coreGaps)
        .enter()
        .append("circle")
            .attr("class", "gap")
            .attr("cx", px)
            .attr("cy", py)
            .attr("r", 3)
            .attr("fill", "#fff");

    const allPoints = [].concat(upperTop, upperMid, upperLow, upperLeft, lowerCentre, lowerDiagonal,
        lowerTail, rightLow, belowLimit, rightTop, rightMid);
    marks.selectAll("circle.pt")
        .data(allPoints)
        .enter()
        .append("circle")
            .attr("class", "pt")
            .attr("cx", px)
            .attr("cy", py)
            .attr("r", 5.5)
            .attr("fill", blue);

    // grid sits above the points
    const xVals = xDecades.map((e) => Math.pow(10, e));
    const yVals = yDecades.map((e) => Math.pow(10, e));
    const gridX = svg.append("g")
        .attr("transform", "translate(0," + plot.bottom + ")")
        .call(d3.axisBottom(x).tickValues(xVals).tickSize(-(plot.bottom - plot.top)).tickFormat("").offset(0));
    const gridY = svg.append("g")
        .attr("transform", "translate(" + plot.left + ",0)")
        .call(d3.axisLeft(y).tickValues(yVals).tickSize(-(plot.right - plot.left)).tickFormat("").offset(0));
    [gridX, gridY].forEach((g) => {
        g.select(".domain").remove();
        g.selectAll("line").attr("stroke", grey).attr("stroke-width", 3);
    });

    marks.append("line")
        .attr("x1", plot.left).attr("x2", plot.right)
        .attr("y1", y(brLimit)).attr("y2", y(brLimit))
        .attr("stroke", "#000").attr("stroke-width", 6);
    marks.append("line")
        .attr("x1", plot.left).attr("x2", plot.right)
        .attr("y1", y(brFuture)).attr("y2", y(brFuture))
        .attr("stroke", "#000").attr("stroke-width", 6)
        .attr("stroke-dasharray", "22.5,10.5");

    // ticks
    const xAxis = svg.append("g")
        .attr("transform", "translate(0," + plot.bottom + ")")
        .call(d3.axisBottom(x).tickValues(x.ticks()).tickSize(25).tickFormat("").offset(0));
    const yAxis = svg.append("g")
        .attr("transform", "translate(" + plot.left + ",0)")
        .call(d3.axisLeft(y).tickValues(yVals).tickSize(25).tickFormat("").offset(0));
    [xAxis, yAxis].forEach((g) => {
        g.select(".domain").remove();
        g.selectAll("line").attr("stroke", "#000").attr("stroke-width", 8);
    });

    svg.append("rect")
        .attr("x", plot.left).attr("y", plot.top)
        .attr("width", plot.right - plot.left).attr("height", plot.bottom - plot.top)
        .attr("fill", "none").attr("stroke", "#000").attr("stroke-width", 8);

    xDecades.forEach((e) => {
        powerLabel(x(Math.pow(10, e)), 1967, e, "middle");
    });
    yDecades.forEach((e) => {
        powerLabel(342, y(Math.pow(10, e)) + 29, e, "end");
    });

    // axis titles
    const xTitle = svg.append("text")
        .attr("x", 1078).attr("y", 2068)
        .attr("text-anchor", "middle")
        .attr("font-size", 85);
    xTitle.append("tspan").text("|");
    xTitle.append("tspan").attr("font-style", "italic").text("η");
    xTitle.append("tspan").attr("font-size", 59.5).attr("dy", 12).attr("dx", -4).text("13");
    xTitle.append("tspan").attr("dy", -12).text("|");

    const yTitle = svg.append("text")
        .attr("transform", "translate(95," + ((plot.top + plot.bottom) / 2) + ") rotate(-90)")
        .attr("text-anchor", "middle")
        .attr("font-size", 85);
    yTitle.append("tspan").attr("font-style", "italic").text("Br");
    yTitle.append("tspan").text("(");
    yTitle.append("tspan").attr("font-style", "italic").text("μ");
    yTitle.append("tspan").attr("dx", 8).text("⟶");
    yTitle.append("tspan").attr("dx", 8).attr("font-style", "italic").text("eγ");
    yTitle.append("tspan").text(")");

    function powerLabel(xPos, yPos, exponent, anchor) {
        const label = svg.append("text")
            .attr("x", xPos).attr("y", yPos)
            .attr("text-anchor", anchor)
            .attr("font-size", 75);
        label.append("tspan").text("10");
        label.append("tspan")
            .attr("font-size", 52.5)
            .attr("dx", 3)
            .attr("dy", -29)
            .text("\u2212" + Math.abs(exponent));
    }
})();
</script>
</body>
</html>
